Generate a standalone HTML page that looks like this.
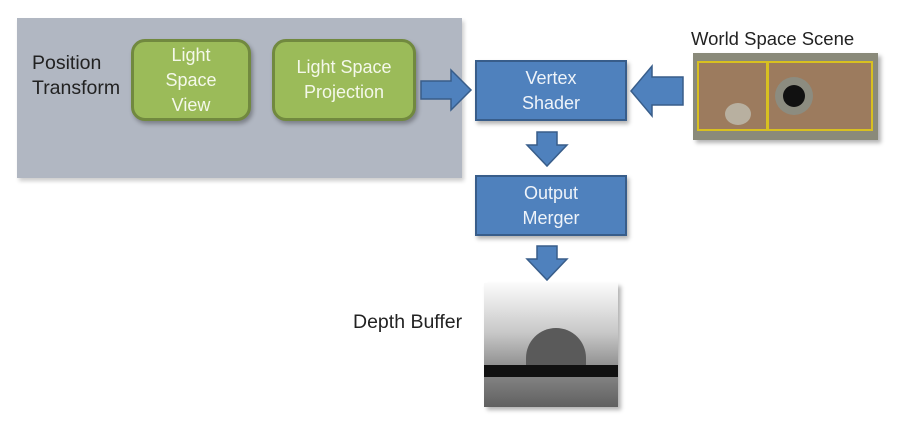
<!DOCTYPE html>
<html><head><style>
body{margin:0;width:907px;height:445px;background:#fff;position:relative;overflow:hidden;font-family:"Liberation Sans",sans-serif}
.a{position:absolute}
.g{background:#9bbb59;border:3px solid #71893f;border-radius:14px;color:#f4f8ea;font-size:18px;text-align:center;display:flex;align-items:center;justify-content:center;line-height:25px;box-shadow:2px 3px 4px rgba(0,0,0,.3);box-sizing:border-box}
.b{background:#4f81bd;border:2px solid #385d8a;color:#eef3f9;font-size:18px;text-align:center;display:flex;align-items:center;justify-content:center;line-height:25px;box-shadow:2px 3px 4px rgba(0,0,0,.3);box-sizing:border-box}
.t{color:#222;font-size:19px;line-height:25px}
</style></head><body>
<div class="a" style="left:17px;top:18px;width:445px;height:160px;background:#b1b7c2;box-shadow:2px 3px 4px rgba(0,0,0,.2)"></div>
<div class="a t" style="left:32px;top:51px;font-size:19.5px">Position<br>Transform</div>
<div class="a g" style="left:131px;top:39px;width:120px;height:82px">Light<br>Space<br>View</div>
<div class="a g" style="left:272px;top:39px;width:144px;height:82px">Light Space<br>Projection</div>
<div class="a b" style="left:475px;top:60px;width:152px;height:61px">Vertex<br>Shader</div>
<div class="a b" style="left:475px;top:175px;width:152px;height:61px">Output<br>Merger</div>
<svg class="a" style="left:0;top:0" width="907" height="445">
<g fill="#4f81bd" stroke="#385d8a" stroke-width="1.5">
<polygon points="421,81 451,81 451,70 471,90 451,110 451,99 421,99"/>
<polygon points="683,77 652,77 652,66 631,91 652,116 652,105 683,105"/>
<polygon points="537,132 557,132 557,145 567,145 547,166 527,145 537,145"/>
<polygon points="537,246 557,246 557,259 567,259 547,280 527,259 537,259"/>
</g></svg>
<div class="a t" style="left:691px;top:26px;font-size:18.5px">World Space Scene</div>
<div class="a" style="left:693px;top:53px;width:185px;height:87px;background:#8a8a7a;box-shadow:3px 3px 4px rgba(0,0,0,.3)">
<div class="a" style="left:4px;top:8px;width:176px;height:70px;background:#9c7b5e;border:2px solid #d8c020;box-sizing:border-box"></div>
<div class="a" style="left:73px;top:8px;width:3px;height:70px;background:#d8c020"></div>
<div class="a" style="left:82px;top:24px;width:38px;height:38px;border-radius:50%;background:#8c8c80"></div>
<div class="a" style="left:90px;top:32px;width:22px;height:22px;border-radius:50%;background:#111"></div>
<div class="a" style="left:32px;top:50px;width:26px;height:22px;border-radius:50%;background:#b8b0a0"></div>
</div>
<div class="a t" style="left:353px;top:310px;font-size:19.5px">Depth Buffer</div>
<div class="a" style="left:484px;top:283px;width:134px;height:124px;background:linear-gradient(#fbfbfb,#c8c8c8 40%,#8a8a8a 70%,#606060);box-shadow:3px 3px 4px rgba(0,0,0,.3)">
<div class="a" style="left:42px;top:45px;width:60px;height:40px;border-radius:30px 30px 0 0;background:#5a5a5a"></div>
<div class="a" style="left:0;top:82px;width:134px;height:12px;background:#111"></div>
</div>
</body></html>
